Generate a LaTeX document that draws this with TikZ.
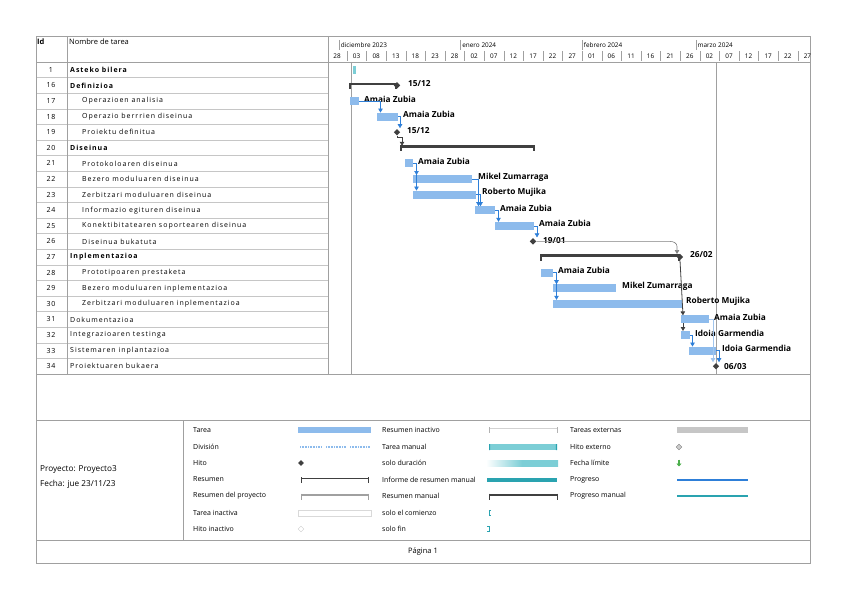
\documentclass[tikz,border=0pt]{standalone}
\usepackage{fontspec}
\setmainfont{Open Sans}
\newfontfamily\rowf[LetterSpace=14]{Open Sans}
\usetikzlibrary{arrows.meta,calc,shapes.geometric}
\definecolor{tb}{HTML}{8DBBEC}
\definecolor{teal}{HTML}{7CCED6}
\definecolor{dteal}{HTML}{2AA3B0}
\definecolor{cblue}{HTML}{2E7FD8}
\definecolor{dk}{HTML}{404040}
\definecolor{gl}{HTML}{A0A0A0}
\tikzset{
 x=1pt,y=-1pt,
 declare function={R(\k)=69.8+15.6*\k;},
 frame/.style={draw=gl,line width=0.6pt},
 rowl/.style={draw=gl!60,line width=0.4pt},
 nm/.style={anchor=west,inner sep=0,font=\rowf\fontsize{7}{8}\selectfont},
 nb/.style={nm,font=\rowf\fontsize{7}{8}\selectfont\bfseries},
 idt/.style={inner sep=0,font=\rowf\fontsize{7}{8}\selectfont},
 lab/.style={anchor=west,inner sep=0,font=\fontsize{8.3}{9}\selectfont\bfseries},
 hd/.style={inner sep=0,font=\fontsize{6.4}{7}\selectfont},
 lg/.style={anchor=west,inner sep=0,font=\fontsize{7}{8}\selectfont},
 conn/.style={draw=cblue,line width=0.6pt,-{Triangle[width=4.5pt,length=4pt]}},
 kconn/.style={draw=dk,line width=0.8pt,-{Triangle[width=4.5pt,length=4pt]}},
 ms/.style={diamond,fill=dk,inner sep=0,minimum size=6.5pt},
}
\newcommand\tbar[4]{% name x1 x2 row
 \fill[tb] (#2,{R(#4)-4}) rectangle (#3,{R(#4)+4});
 \coordinate (#1e) at (#3,{R(#4)});
 \coordinate (#1t) at ({#2+3.5},{R(#4)-4});}
\newcommand\sumbar[4]{%
 \draw[dk,line width=2.6pt] (#2,{R(#4)-1.5}) -- (#3,{R(#4)-1.5});
 \draw[dk,line width=1.2pt] (#2,{R(#4)-2.8}) -- (#2,{R(#4)+3.5}) (#3,{R(#4)-2.8}) -- (#3,{R(#4)+3.5});
 \coordinate (#1s) at (#2,{R(#4)});\coordinate (#1e) at (#3,{R(#4)});}
\begin{document}
\begin{tikzpicture}
\useasboundingbox (0,0) rectangle (848,599);
\foreach \k in {0,...,19} \draw[rowl] (36,{62+15.6*\k}) -- (328,{62+15.6*\k});
\draw[frame] (36,36) rectangle (810,563);
\draw[frame] (36,62) -- (810,62);
\draw[frame] (67,36) -- (67,374) (328,36) -- (328,374);
\draw[frame] (36,374) -- (810,374);
\draw[frame] (36,420) -- (810,420) (36,540) -- (810,540) (183,420) -- (183,540);
\node[hd,anchor=west,font=\fontsize{7.5}{8}\selectfont\bfseries] (hid) at (37,42) {Id};
\node[hd,anchor=west,font=\fontsize{7.5}{8}\selectfont] (hnm) at (69,42) {Nombre de tarea};
\foreach \m/\d in {diciembre 2023/-2,enero 2024/29,febrero 2024/60,marzo 2024/89}{
 \draw[gl,line width=0.4pt] ({347+3.92*\d},40) -- ({347+3.92*\d},50);
 \node[hd,anchor=west] at ({348.5+3.92*\d},45.5) {\m};}
\foreach \l [count=\i from 0] in {28,03,08,13,18,23,28,02,07,12,17,22,27,01,06,11,16,21,26,02,07,12,17,22,27}{
 \node[hd] at ({337+19.6*\i},56.5) {\l};
 \ifnum\i>0 \draw[gl,line width=0.4pt] ({327.4+19.6*\i},51) -- ({327.4+19.6*\i},61);\fi}
\draw[gl,line width=0.6pt] (351,62) -- (351,374) (716,62) -- (716,374);
\foreach \id/\n/\b [count=\k from 0] in {1/Asteko bilera/1,16/Definizioa/1,17/Operazioen analisia/0,18/Operazio berrrien diseinua/0,19/Proiektu definitua/0,20/Diseinua/1,21/Protokoloaren diseinua/0,22/Bezero moduluaren diseinua/0,23/Zerbitzari moduluaren diseinua/0,24/Informazio egituren diseinua/0,25/Konektibitatearen soportearen diseinua/0,26/Diseinua bukatuta/0,27/Inplementazioa/1,28/Prototipoaren prestaketa/0,29/Bezero moduluaren inplementazioa/0,30/Zerbitzari moduluaren inplementazioa/0,31/Dokumentazioa/2,32/Integrazioaren testinga/2,33/Sistemaren inplantazioa/2,34/Proiektuaren bukaera/2}{
 \node[idt] (id\id) at (51,{R(\k)}) {\id};
 \ifcase\b \node[nm] (n\id) at (82,{R(\k)}) {\n};\or\node[nb] (n\id) at (70,{R(\k)}) {\n};\or\node[nm] (n\id) at (70,{R(\k)}) {\n};\fi}
\fill[teal] (353,{R(0)-4}) rectangle (356,{R(0)+4});
\sumbar{s16}{350}{396}{1}
\node[ms] (m16) at (397,{R(1)}) {};
\node[lab] (l16) at (408,{R(1)-2}) {15/12};
\tbar{b17}{350}{359}{2} \node[lab] (l17) at (364,{R(2)-2}) {Amaia Zubia};
\tbar{b18}{377}{398}{3} \node[lab] (l18) at (403,{R(3)-2}) {Amaia Zubia};
\node[ms] (m19) at (397,{R(4)}) {}; \node[lab] (l19) at (407,{R(4)-2}) {15/12};
\sumbar{s20}{401}{534}{5}
\tbar{b21}{405}{413}{6} \node[lab] (l21) at (418,{R(6)-2}) {Amaia Zubia};
\tbar{b22}{413}{472}{7} \node[lab] (l22) at (478,{R(7)-2}) {Mikel Zumarraga};
\tbar{b23}{413}{476}{8} \node[lab] (l23) at (482,{R(8)-2}) {Roberto Mujika};
\tbar{b24}{475}{495}{9} \node[lab] (l24) at (500,{R(9)-2}) {Amaia Zubia};
\tbar{b25}{495}{534}{10} \node[lab] (l25) at (539,{R(10)-2}) {Amaia Zubia};
\node[ms] (m26) at (533,{R(11)}) {}; \node[lab] (l26) at (543,{R(11)-1}) {19/01};
\sumbar{s27}{541}{679}{12}
\node[ms] (m27) at (680,{R(12)}) {}; \node[lab] (l27) at (690,{R(12)-2}) {26/02};
\tbar{b28}{541}{553}{13} \node[lab] (l28) at (558,{R(13)-2}) {Amaia Zubia};
\tbar{b29}{553}{616}{14} \node[lab] (l29) at (622,{R(14)-2}) {Mikel Zumarraga};
\tbar{b30}{553}{682}{15} \node[lab] (l30) at (686,{R(15)-2}) {Roberto Mujika};
\tbar{b31}{681}{709}{16} \node[lab] (l31) at (714,{R(16)-2}) {Amaia Zubia};
\tbar{b32}{681}{690}{17} \node[lab] (l32) at (695,{R(17)-2}) {Idoia Garmendia};
\tbar{b33}{689}{716}{18} \node[lab] (l33) at (722,{R(18)-2}) {Idoia Garmendia};
\node[ms] (m34) at (716,{R(19)}) {}; \node[lab] (l34) at (724,{R(19)}) {06/03};
\draw[conn] (b17e) -| (b18t);
\draw[conn] (b18e) -| (400,{R(4)-4});
\draw[kconn] (m19.south) |- (402,{R(4)+5}) -- (402,{R(5)-2});
\draw[conn] (b21e) -| (b22t);
\draw[conn] (b21e) -| (b23t);
\draw[conn] (b22e) -| (b24t);
\draw[conn] (b23e) -| ($(b24t)+(2,0)$);
\draw[conn] (b24e) -| (b25t);
\draw[conn] (b25e) -| (537,{R(11)-4});
\draw[kconn,draw=gray,line width=0.6pt] (m26.east) -- (670,{R(11)}) to[out=0,in=90] (677,{R(11)+5}) -- (677,{R(12)-3});
\draw[conn] (b28e) -| (b29t);
\draw[conn] (b28e) -| (b30t);
\draw[kconn] (m27.south) -- (683,{R(16)-4});
\draw[kconn] (683,{R(16)+4}) -- (683,{R(17)-4});
\draw[conn] (b32e) -| (b33t);
\draw[conn,draw=cblue!45] (b31e) -| (713,{R(19)-4});
\draw[conn] (b33e) -| (719,{R(19)-4});
\node[lg,font=\fontsize{8.2}{9}\selectfont] (p1) at (40,470) {Proyecto: Proyecto3};
\node[lg,font=\fontsize{8.2}{9}\selectfont] (p2) at (40,484) {Fecha: jue 23/11/23};
\foreach \t [count=\i from 0] in {Tarea,División,Hito,Resumen,Resumen del proyecto,Tarea inactiva,Hito inactivo}
 \node[lg] at (193,{430+16.5*\i}) {\t};
\foreach \t [count=\i from 0] in {Resumen inactivo,Tarea manual,solo duración,Informe de resumen manual,Resumen manual,solo el comienzo,solo fin}
 \node[lg] at (382,{430+16.5*\i}) {\t};
\foreach \t [count=\i from 0] in {Tareas externas,Hito externo,Fecha límite,Progreso,Progreso manual}
 \node[lg] at (570,{430+16.5*\i}) {\t};
\fill[tb] (298,427) rectangle (371,433);
\draw[tb,dash pattern=on 0.8pt off 0.8pt,line width=2pt] (300,447) -- (322,447) (326,447) -- (346,447) (350,447) -- (370,447);
\node[ms,minimum size=6pt] at (301,463) {};
\draw[dk,line width=1.6pt] (301,478.5) -- (368,478.5); \draw[dk,line width=1pt] (301,477) -- (301,483) (368,477) -- (368,483);
\draw[gl,line width=1.6pt] (301,495) -- (368,495); \draw[gl,line width=1pt] (301,493.5) -- (301,499.5) (368,493.5) -- (368,499.5);
\draw[gray!30,line width=0.5pt,fill=white] (298,510) rectangle (371,516);
\node[diamond,draw=gray!40,inner sep=0,minimum size=6pt] at (301,529) {};
\draw[gray!35,line width=1.6pt] (489,428.5) -- (557,428.5); \draw[gray!60,line width=0.8pt] (489,427) -- (489,433) (557,427) -- (557,433);
\fill[teal] (489,444) rectangle (557,450); \fill[dteal] (489,444) rectangle (490.2,450) (555.8,444) rectangle (557,450);
\shade[left color=white,right color=teal,middle color=teal] (486,460) rectangle (558,466);
\fill[dteal] (487,478) rectangle (557,482);
\draw[dk,line width=1.6pt] (489,495) -- (557,495); \draw[dk,line width=1pt] (489,493.5) -- (489,499.5) (557,493.5) -- (557,499.5);
\draw[dteal,line width=1pt] (491,510.5) -- (489,510.5) -- (489,515.5) -- (491,515.5);
\draw[dteal,line width=1pt] (487,526.5) -- (489,526.5) -- (489,531.5) -- (487,531.5);
\fill[gray!45] (677,427) rectangle (748,433);
\node[diamond,draw=gray,fill=gray!40,inner sep=0,minimum size=6pt] at (679,447) {};
\draw[green!55!black!70,line width=2pt,-{Triangle[width=5pt,length=3pt]}] (679,459.5) -- (679,466.5);
\draw[cblue,line width=1.6pt] (677,480) -- (748,480);
\draw[dteal,line width=1.6pt] (677,496) -- (748,496);
\node[inner sep=0,font=\fontsize{7.5}{8}\selectfont] (pg) at (423,552) {Página 1};
\end{tikzpicture}
\end{document}
